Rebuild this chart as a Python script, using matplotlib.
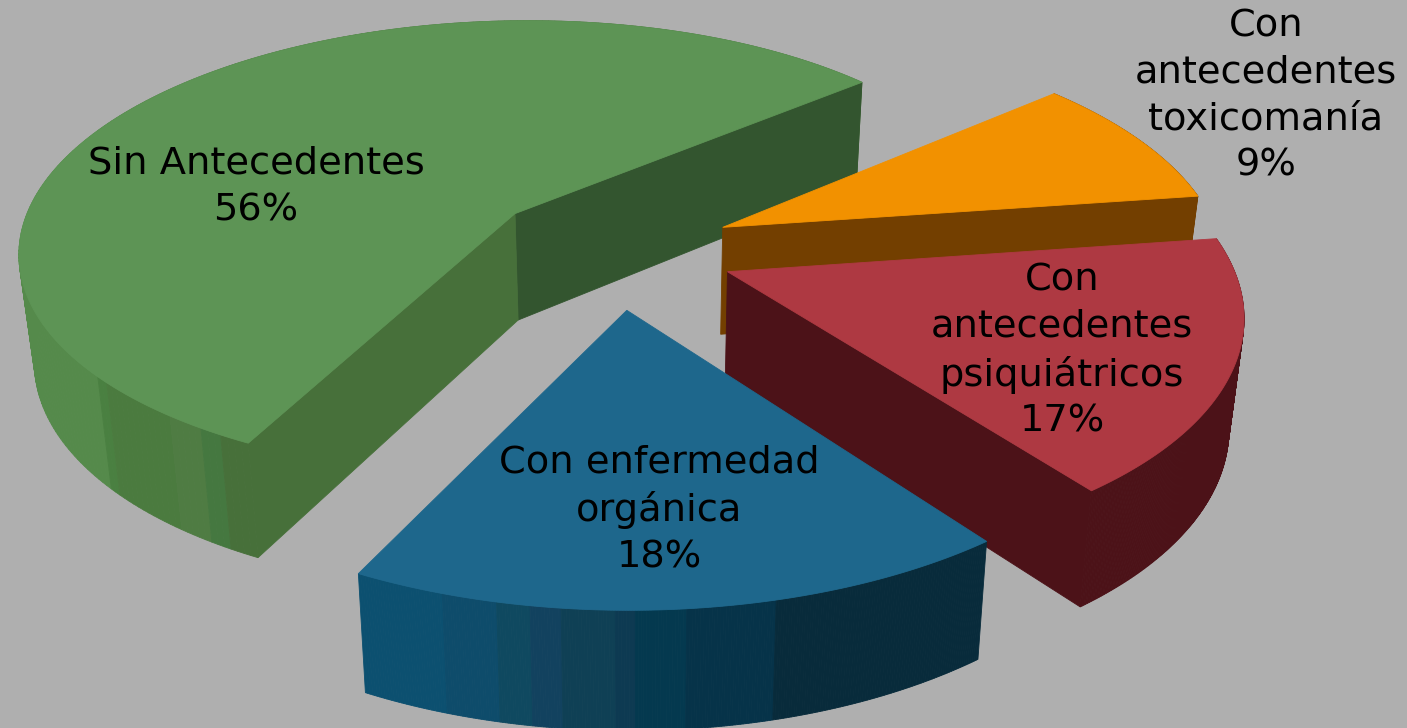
import numpy as np
import matplotlib
matplotlib.use("Agg")
import matplotlib.pyplot as plt

# Data
labels = ["Sin Antecedentes\n56%", "Con enfermedad\norgánica\n18%",
          "Con\nantecedentes\npsiquiátricos\n17%", "Con\nantecedentes\ntoxicomanía\n9%"]
values = [56.4, 17.6, 17, 9]
explode = [0.26, 0.25, 0.24, 0.24]

# Colours
bg = "#afafaf"
top_colors = ["#5d9455", "#1e678c", "#ae3942", "#f29100"]
# None = that cut wall faces away from the viewer
cut_start_colors = ["#33552f", None, "#4c1218", "#733f00"]
cut_end_colors = ["#47703a", None, None, None]
band_edges = [[97, 105, 168, 203, 218],
              [441, 497, 530, 562, 615, 636, 686, 777],
              [],
              []]
band_colors = [["#558a4b", "#4a8041", "#4b7b3f", "#4f7c43", "#457840", "#47703a"],
               ["#0c5070", "#0e4c6b", "#0f4960", "#12425f", "#0f4055", "#0d3a52", "#04394f", "#063349", "#082b3b"],
               ["#4c1218"],
               ["#733f00"]]

# Label positions
label_x = [256, 659, 1062, 1266]
label_y = [187, 510, 351, 96]
start_angle = 40.5
font_size = 27.6

# Camera
cx, cy = 615, 250
Rx, Ry, persp = 500, 233, 0.154
base_scale = 0.975
base_cx = 640
base_drop = 102
base_stretch = 0.035


def project(x, y):
    w = 1 + persp * y
    return cx + Rx * x / w, cy - Ry * y / w


def to_base(sx, sy):
    return base_cx + (sx - base_cx) * base_scale, sy + base_drop + base_stretch * (sy - 87)


def quad(ax, p0, p1, color):
    bx0, by0 = to_base(*p0)
    bx1, by1 = to_base(*p1)
    xs = [p0[0], p1[0], bx1, bx0]
    ys = [p0[1], p1[1], by1, by0]
    ax.fill(xs, ys, color=color, lw=0.6, ec=color, zorder=2)


fig = plt.figure(figsize=(14.07, 7.28), dpi=100, facecolor=bg)
ax = fig.add_axes([0, 0, 1, 1])
ax.set_xlim(0, 1407)
ax.set_ylim(728, 0)
ax.axis("off")

spans = np.array(values) / sum(values) * 360
starts = start_angle + np.concatenate([[0], np.cumsum(spans)[:-1]])

# back to front
for i in [0, 3, 2, 1]:
    t0, t1 = np.radians(starts[i]), np.radians(starts[i] + spans[i])
    mid = (t0 + t1) / 2
    ox, oy = explode[i] * np.cos(mid), explode[i] * np.sin(mid)
    t = np.linspace(t0, t1, 240)
    sx, sy = project(ox + np.cos(t), oy + np.sin(t))
    apex = project(ox, oy)

    # outer wall, coloured in bands
    for j in range(len(t) - 1):
        band = np.searchsorted(band_edges[i], (sx[j] + sx[j + 1]) / 2)
        quad(ax, (sx[j], sy[j]), (sx[j + 1], sy[j + 1]), band_colors[i][band])

    # cut walls
    if cut_start_colors[i]:
        quad(ax, apex, (sx[0], sy[0]), cut_start_colors[i])
    if cut_end_colors[i]:
        quad(ax, apex, (sx[-1], sy[-1]), cut_end_colors[i])

    # top face
    ax.fill(np.r_[apex[0], sx], np.r_[apex[1], sy], color=top_colors[i], lw=0.6, ec=top_colors[i], zorder=2)

for i in range(len(labels)):
    ax.text(label_x[i], label_y[i], labels[i], ha="center", va="center", color="black",
            fontsize=font_size, family="DejaVu Sans", linespacing=1.37, zorder=5)

fig.savefig("out.png", dpi=100, facecolor=bg)
